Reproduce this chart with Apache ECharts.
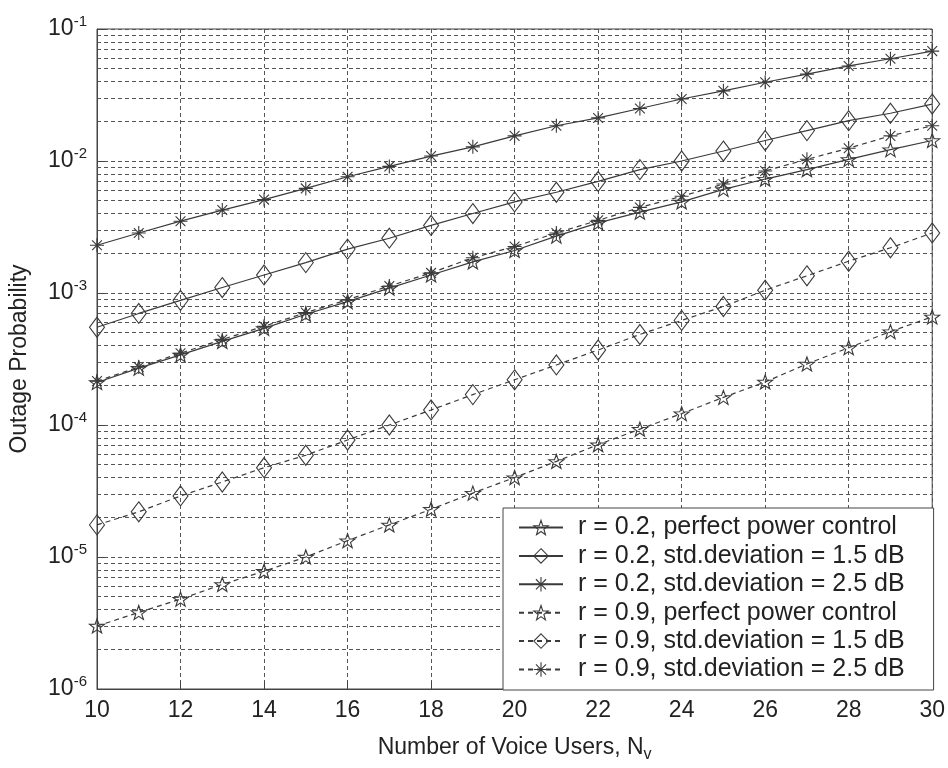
<!DOCTYPE html>
<html>
<head>
<meta charset="utf-8">
<script src="https://cdn.jsdelivr.net/npm/echarts@6/dist/echarts.min.js"></script>
<style>
  html, body { margin: 0; padding: 0; background: #fff; }
  #chart { width: 948px; height: 768px; }
</style>
</head>
<body>
<div id="chart"></div>
<script>
// number of voice users
const users = [10, 11, 12, 13, 14, 15, 16, 17, 18, 19, 20, 21, 22, 23, 24, 25, 26, 27, 28, 29, 30];

// r = 0.2
const r02Perfect = [2.1e-4, 2.7e-4, 3.4e-4, 4.3e-4, 5.4e-4, 6.9e-4, 8.6e-4, 1.09e-3, 1.37e-3, 1.72e-3, 2.1e-3, 2.7e-3, 3.4e-3, 4.1e-3, 4.9e-3, 6.1e-3, 7.3e-3, 8.6e-3, 1.03e-2, 1.22e-2, 1.43e-2];
const r02Std15 = [5.5e-4, 7.0e-4, 8.8e-4, 1.1e-3, 1.37e-3, 1.7e-3, 2.15e-3, 2.6e-3, 3.25e-3, 4.0e-3, 4.9e-3, 5.8e-3, 7.0e-3, 8.6e-3, 1.0e-2, 1.19e-2, 1.43e-2, 1.7e-2, 2.02e-2, 2.3e-2, 2.7e-2];
const r02Std25 = [2.3e-3, 2.85e-3, 3.5e-3, 4.25e-3, 5.1e-3, 6.2e-3, 7.6e-3, 9.1e-3, 1.09e-2, 1.28e-2, 1.55e-2, 1.85e-2, 2.12e-2, 2.5e-2, 2.95e-2, 3.4e-2, 3.95e-2, 4.55e-2, 5.25e-2, 5.95e-2, 6.8e-2];

// r = 0.9
const r09Perfect = [3.0e-6, 3.8e-6, 4.8e-6, 6.2e-6, 7.8e-6, 1.0e-5, 1.33e-5, 1.75e-5, 2.3e-5, 3.05e-5, 4.0e-5, 5.3e-5, 7.1e-5, 9.3e-5, 1.22e-4, 1.62e-4, 2.12e-4, 2.9e-4, 3.85e-4, 5.1e-4, 6.6e-4];
const r09Std15 = [1.75e-5, 2.2e-5, 2.9e-5, 3.7e-5, 4.75e-5, 5.9e-5, 7.7e-5, 1.0e-4, 1.3e-4, 1.7e-4, 2.2e-4, 2.85e-4, 3.7e-4, 4.85e-4, 6.2e-4, 7.9e-4, 1.05e-3, 1.35e-3, 1.74e-3, 2.2e-3, 2.85e-3];
const r09Std25 = [2.15e-4, 2.75e-4, 3.5e-4, 4.45e-4, 5.6e-4, 7.1e-4, 8.9e-4, 1.13e-3, 1.42e-3, 1.85e-3, 2.25e-3, 2.85e-3, 3.55e-3, 4.45e-3, 5.4e-3, 6.7e-3, 8.4e-3, 1.03e-2, 1.25e-2, 1.55e-2, 1.85e-2];

const seriesNames = [
  'r = 0.2, perfect power control',
  'r = 0.2, std.deviation = 1.5 dB',
  'r = 0.2, std.deviation = 2.5 dB',
  'r = 0.9, perfect power control',
  'r = 0.9, std.deviation = 1.5 dB',
  'r = 0.9, std.deviation = 2.5 dB'
];

const FONT = '"Liberation Sans", Arial, Helvetica, sans-serif';
const INK = '#3a3a3a';
const GRID_DASH = [4, 3];

const STAR = 'path://M0,-10 L2.35,-3.24 L9.51,-3.09 L3.8,1.24 L5.88,8.09 L0,4 L-5.88,8.09 L-3.8,1.24 L-9.51,-3.09 L-2.35,-3.24 Z';
const ASTERISK = 'path://M0,-10 L0,10 M-10,0 L10,0 M-7,-7 L7,7 M-7,7 L7,-7';

// minor log grid lines 2..9 x 10^e
const minorLines = [];
for (let e = -6; e <= -2; e++) {
  for (let k = 2; k <= 9; k++) {
    minorLines.push({ yAxis: Number((k * Math.pow(10, e)).toPrecision(2)) });
  }
}

function pairs(ys) {
  return users.map((x, i) => [x, ys[i]]);
}

function makeSeries(name, ys, symbol, size, dashed) {
  return {
    name: name,
    type: 'line',
    data: pairs(ys),
    symbol: symbol,
    symbolSize: size,
    showAllSymbol: true,
    lineStyle: { color: INK, width: 1.2, type: dashed ? [5, 4] : 'solid' },
    itemStyle: { color: 'rgba(255,255,255,0)', borderColor: INK, borderWidth: 1.1 },
    emphasis: { disabled: true },
    z: 3
  };
}

const chart = echarts.init(document.getElementById('chart'));

const option = {
  animation: false,
  backgroundColor: '#fff',
  textStyle: { fontFamily: FONT },
  grid: {
    left: 93, right: 13, top: 29, bottom: 78,
    show: true, borderColor: '#444', borderWidth: 1,
    containLabel: false
  },
  legend: {
    orient: 'vertical',
    left: 503, top: 508,
    itemWidth: 44, itemHeight: 18, itemGap: 3.4,
    padding: [7, 29, 8, 15],
    backgroundColor: '#fff',
    borderColor: '#444', borderWidth: 1,
    borderRadius: 0,
    z: 10,
    itemStyle: { color: 'rgba(255,255,255,0)', borderColor: INK, borderWidth: 1.1 },
    textStyle: { fontFamily: FONT, fontSize: 25, color: '#222', padding: [0, 0, 0, 10] },
    data: seriesNames
  },
  xAxis: {
    type: 'value',
    min: 10, max: 30, interval: 2,
    name: '{a|Number of Voice Users, N}{s|v}',
    nameLocation: 'middle',
    nameGap: 44,
    nameTextStyle: {
      rich: {
        a: { fontFamily: FONT, fontSize: 23, color: '#222', lineHeight: 30 },
        s: { fontFamily: FONT, fontSize: 16, color: '#222', lineHeight: 14, verticalAlign: 'bottom' }
      }
    },
    axisLine: { lineStyle: { color: '#444' } },
    axisTick: { inside: true, length: 8, lineStyle: { color: '#444' } },
    axisLabel: { fontFamily: FONT, fontSize: 23, color: '#222', margin: 10 },
    splitLine: { show: true, lineStyle: { color: '#555', type: GRID_DASH, width: 1 } }
  },
  yAxis: {
    type: 'log',
    logBase: 10,
    min: 1e-6, max: 1e-1,
    name: 'Outage Probability',
    nameLocation: 'middle',
    nameGap: 66,
    nameRotate: 90,
    nameTextStyle: { fontFamily: FONT, fontSize: 23, color: '#222' },
    axisLine: { show: true, lineStyle: { color: '#444' } },
    axisTick: { inside: true, length: 8, lineStyle: { color: '#444' } },
    axisLabel: {
      margin: 10,
      showMinLabel: true, showMaxLabel: true,
      formatter: function (v) {
        const e = Math.round(Math.log10(v));
        return '{b|10}{s|' + e + '}';
      },
      rich: {
        b: { fontFamily: FONT, fontSize: 23, color: '#222', lineHeight: 30 },
        s: { fontFamily: FONT, fontSize: 15, color: '#222', lineHeight: 14, verticalAlign: 'top' }
      }
    },
    splitLine: { show: true, lineStyle: { color: '#555', type: GRID_DASH, width: 1 } }
  },
  series: [
    {
      name: 'minor-grid',
      type: 'line',
      data: [],
      silent: true,
      z: 1,
      markLine: {
        silent: true,
        z: 1,
        precision: 10,
        symbol: ['none', 'none'],
        label: { show: false },
        lineStyle: { color: '#555', type: GRID_DASH, width: 1 },
        emphasis: { disabled: true },
        data: minorLines
      }
    },
    makeSeries(seriesNames[0], r02Perfect, STAR, [15, 14], false),
    makeSeries(seriesNames[1], r02Std15, 'diamond', [15, 20], false),
    makeSeries(seriesNames[2], r02Std25, ASTERISK, [14, 14], false),
    makeSeries(seriesNames[3], r09Perfect, STAR, [15, 14], true),
    makeSeries(seriesNames[4], r09Std15, 'diamond', [15, 20], true),
    makeSeries(seriesNames[5], r09Std25, ASTERISK, [14, 14], true)
  ]
};

chart.setOption(option);
</script>
</body>
</html>
